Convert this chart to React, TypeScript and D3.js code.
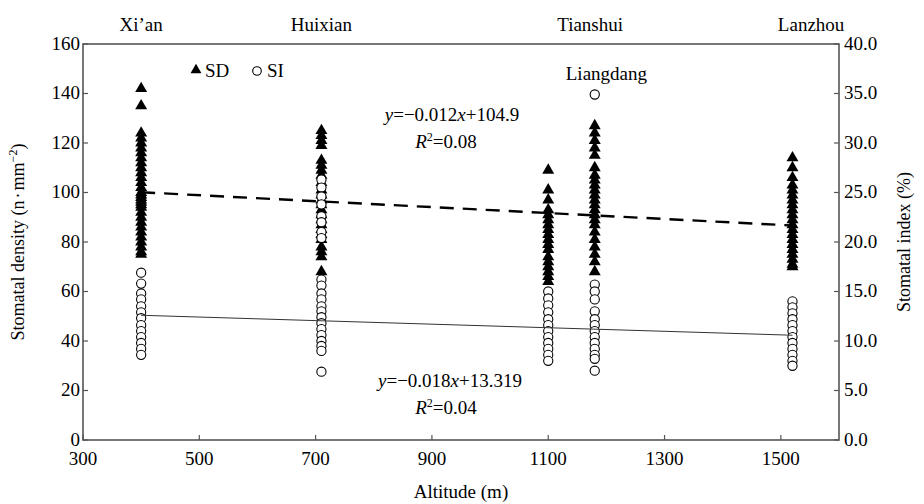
import * as d3 from "d3";

// altitude of each sampling column (m)
const sites = [400, 710, 1100, 1180, 1520];

// stomatal density (n·mm⁻²) per site
const sdValues = [
  [142, 135, 124, 122, 120, 118, 116, 114, 112, 110, 108, 106, 104, 102, 100, 99, 98, 97, 96, 95, 94, 92, 90, 88, 86, 84, 82, 80, 78, 76, 75],
  [125, 123, 121, 119, 113, 111, 109, 107, 104, 101, 99, 97, 95, 93, 91, 89, 87, 85, 83, 81, 78, 76, 74, 68],
  [109, 101, 97, 93, 91, 89, 87, 85, 83, 81, 79, 77, 74, 72, 70, 68, 66, 64],
  [127, 124, 121, 118, 115, 110, 107, 105, 103, 101, 99, 97, 95, 93, 91, 89, 87, 84, 81, 78, 75, 72, 68],
  [114, 110, 106, 103, 101, 99, 97, 95, 93, 91, 89, 87, 85, 83, 81, 79, 77, 75, 73, 71, 70],
];

// stomatal index (%) per site
const siValues = [
  [16.9, 15.8, 14.8, 14.2, 13.5, 12.9, 12.3, 11.6, 11.0, 10.4, 9.8, 9.2, 8.6],
  [26.3, 25.5, 24.6, 23.8, 22.6, 22.0, 21.0, 20.4, 16.2, 15.6, 14.8, 14.2, 13.5, 13.0, 12.4, 11.8, 11.2, 10.6, 10.0, 9.5, 9.0, 6.9],
  [15.0, 14.3, 13.6, 12.9, 12.2, 11.6, 11.0, 10.4, 9.8, 9.2, 8.6, 8.0],
  [34.9, 15.7, 15.0, 14.2, 13.0, 12.2, 11.6, 11.0, 10.4, 9.8, 9.2, 8.6, 8.2, 7.0],
  [14.0, 13.4, 12.8, 12.2, 11.6, 11.0, 10.4, 9.8, 9.2, 8.6, 8.0, 7.5],
];

const xTicks = [300, 500, 700, 900, 1100, 1300, 1500];
const sdTicks = [0, 20, 40, 60, 80, 100, 120, 140, 160];
const siTicks = [0, 5, 10, 15, 20, 25, 30, 35, 40];

// place names above the plot, at the altitude they sit over
const placeNames = [
  { name: "Xi\u2019an", alt: 400 },
  { name: "Huixian", alt: 710 },
  { name: "Tianshui", alt: 1172 },
  { name: "Lanzhou", alt: 1552 },
];

// fitted lines, drawn over the altitude range of the sites
const sdFit = (x: number) => -0.012 * x + 104.9;
const siFit = (x: number) => -0.0018 * x + 13.319;

export default function App() {
  const width = 924,
    height = 504;
  const left = 83,
    right = 839,
    top = 44,
    bottom = 440;

  const x = d3.scaleLinear().domain([300, 1600]).range([left, right]);
  const ySD = d3.scaleLinear().domain([0, 160]).range([bottom, top]);
  const ySI = d3.scaleLinear().domain([0, 40]).range([bottom, top]);

  const font = "'Liberation Serif', 'Times New Roman', serif";
  const axisColor = "#555";
  const fs = 19;
  const tri = d3.symbol().type(d3.symbolTriangle).size(62)();
  const line = d3.line<[number, number]>();

  const x0 = sites[0],
    x1 = sites[sites.length - 1];

  return (
    <svg
      width={width}
      height={height}
      style={{ position: "absolute", left: 0, top: 0, background: "#fff" }}
      fontFamily={font}
    >
      {/* frame */}
      <rect
        x={left}
        y={top}
        width={right - left}
        height={bottom - top}
        fill="none"
        stroke={axisColor}
        strokeWidth={1.6}
      />

      {/* bottom axis */}
      <g>
        {xTicks.map((t) => (
          <g key={t}>
            <line x1={x(t)} x2={x(t)} y1={bottom} y2={bottom - 5} stroke={axisColor} strokeWidth={1.2} />
            <text x={x(t)} y={bottom + 25} textAnchor="middle" fontSize={fs}>
              {t}
            </text>
          </g>
        ))}
        <text x={(left + right) / 2} y={498} textAnchor="middle" fontSize={fs}>
          Altitude (m)
        </text>
      </g>

      {/* left axis */}
      <g>
        {sdTicks.map((t) => (
          <g key={t}>
            <line x1={left} x2={left + 5} y1={ySD(t)} y2={ySD(t)} stroke={axisColor} strokeWidth={1.2} />
            <text x={left - 3} y={ySD(t)} dy="0.3em" textAnchor="end" fontSize={fs}>
              {t}
            </text>
          </g>
        ))}
        <text
          transform={`translate(24,${(top + bottom) / 2}) rotate(-90)`}
          textAnchor="middle"
          fontSize={fs - 1}
        >
          Stomatal density (n
          <tspan dx={2}>·</tspan>
          <tspan dx={2}>mm</tspan>
          <tspan baselineShift="super" fontSize={12}>
            −2
          </tspan>
          )
        </text>
      </g>

      {/* right axis */}
      <g>
        {siTicks.map((t) => (
          <g key={t}>
            <line x1={right} x2={right - 5} y1={ySI(t)} y2={ySI(t)} stroke={axisColor} strokeWidth={1.2} />
            <text x={right + 5} y={ySI(t)} dy="0.3em" textAnchor="start" fontSize={fs}>
              {d3.format(".1f")(t)}
            </text>
          </g>
        ))}
        <text
          transform={`translate(910,${(top + bottom) / 2}) rotate(-90)`}
          textAnchor="middle"
          fontSize={fs - 1}
        >
          Stomatal index (%)
        </text>
      </g>

      {/* place names */}
      {placeNames.map((p) => (
        <text key={p.name} x={x(p.alt)} y={31} textAnchor="middle" fontSize={fs}>
          {p.name}
        </text>
      ))}
      <text x={x(1200)} y={80} textAnchor="middle" fontSize={fs}>
        Liangdang
      </text>

      {/* points */}
      {sites.map((s, i) => (
        <g key={s}>
          {sdValues[i].map((v, j) => (
            <path key={"t" + j} d={tri ?? ""} transform={`translate(${x(s)},${ySD(v)})`} fill="#000" />
          ))}
          {siValues[i].map((v, j) => (
            <circle key={"c" + j} cx={x(s)} cy={ySI(v)} r={4.6} fill="#fff" stroke="#000" strokeWidth={1.1} />
          ))}
        </g>
      ))}

      {/* regression lines */}
      <path
        d={line([
          [x(x0), ySD(sdFit(x0))],
          [x(x1), ySD(sdFit(x1))],
        ]) ?? ""}
        stroke="#000"
        strokeWidth={2.4}
        strokeDasharray="14,9"
        fill="none"
      />
      <path
        d={line([
          [x(x0), ySI(siFit(x0))],
          [x(x1), ySI(siFit(x1))],
        ]) ?? ""}
        stroke="#333"
        strokeWidth={1}
        fill="none"
      />

      {/* legend */}
      <g fontSize={fs}>
        <path d={d3.symbol().type(d3.symbolTriangle).size(52)() ?? ""} transform={`translate(196,70)`} fill="#000" />
        <text x={205} y={77}>SD</text>
        <circle cx={257} cy={71} r={4.3} fill="#fff" stroke="#000" strokeWidth={1.1} />
        <text x={267} y={77}>SI</text>
      </g>

      {/* equations */}
      <g fontSize={fs}>
        <text x={452} y={121} textAnchor="middle">
          <tspan fontStyle="italic">y</tspan>=−0.012<tspan fontStyle="italic">x</tspan>+104.9
        </text>
        <text x={446} y={148} textAnchor="middle">
          <tspan fontStyle="italic">R</tspan>
          <tspan baselineShift="super" fontSize={12}>2</tspan>=0.08
        </text>
        <text x={450} y={387} textAnchor="middle">
          <tspan fontStyle="italic">y</tspan>=−0.018<tspan fontStyle="italic">x</tspan>+13.319
        </text>
        <text x={446} y={414} textAnchor="middle">
          <tspan fontStyle="italic">R</tspan>
          <tspan baselineShift="super" fontSize={12}>2</tspan>=0.04
        </text>
      </g>
    </svg>
  );
}
